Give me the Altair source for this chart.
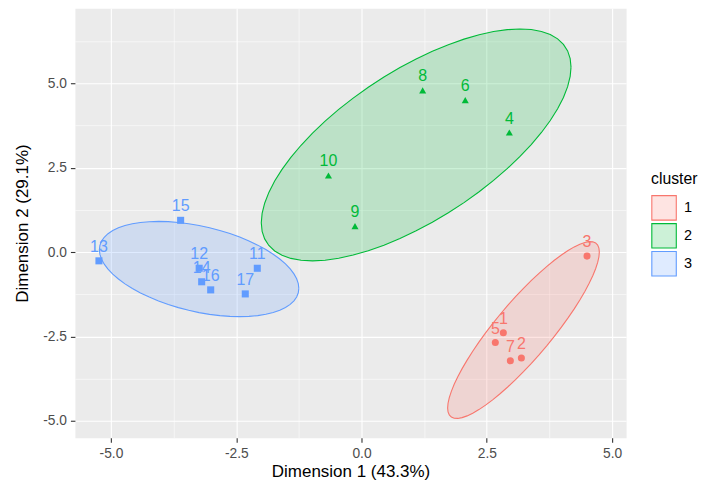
import numpy as np
import pandas as pd
import altair as alt

# ---- data ----
point_labels = ["1", "2", "3", "4", "5", "6", "7", "8", "9", "10",
                "11", "12", "13", "14", "15", "16", "17"]
cluster = ["1", "1", "1", "2", "1", "2", "1", "2", "2", "2",
           "3", "3", "3", "3", "3", "3", "3"]
dim1 = [2.83, 3.19, 4.50, 2.95, 2.67, 2.07, 2.97, 1.22, -0.13, -0.66,
        -2.08, -3.24, -5.24, -3.19, -3.61, -3.01, -2.32]
dim2 = [-2.39, -3.14, -0.12, 3.54, -2.68, 4.50, -3.22, 4.79, 0.77, 2.27,
        -0.48, -0.48, -0.26, -0.88, 0.94, -1.12, -1.24]

cluster_levels = ["1", "2", "3"]
cluster_colors = ["#F8766D", "#00BA38", "#619CFF"]
cluster_fills = ["rgba(248,118,109,0.2)", "rgba(0,186,56,0.2)", "rgba(97,156,255,0.2)"]
cluster_shapes = ["circle", "triangle-up", "square"]

x_title = "Dimension 1 (43.3%)"
y_title = "Dimension 2 (29.1%)"
x_domain = [-5.72, 5.28]
y_domain = [-5.5, 7.22]
x_grid = [-5, -3.75, -2.5, -1.25, 0, 1.25, 2.5, 3.75, 5]
y_grid = [-5, -3.75, -2.5, -1.25, 0, 1.25, 2.5, 3.75, 5, 6.25]
ellipse_level = 0.765

pts = pd.DataFrame({"label": point_labels, "cluster": cluster,
                    "x": dim1, "y": dim2})
pts["col"] = pts.cluster.map(dict(zip(cluster_levels, cluster_colors)))
pts["shp"] = pts.cluster.map(dict(zip(cluster_levels, cluster_shapes)))


# normal-theory ellipse around each cluster (like stat_ellipse type="norm")
def ellipse(xs, ys, level, segments=61):
    p = np.column_stack([xs, ys])
    n = len(p)
    center = p.mean(axis=0)
    cov = np.cov(p.T)
    chol = np.linalg.cholesky(cov).T
    d = n - 1
    fq = (d / 2.0) * ((1 - level) ** (-2.0 / d) - 1)
    radius = np.sqrt(2 * fq)
    t = np.linspace(0, 2 * np.pi, segments)
    circle = np.column_stack([np.cos(t), np.sin(t)])
    return center + radius * circle @ chol


rows = []
for c in cluster_levels:
    sub = pts[pts.cluster == c]
    e = ellipse(sub.x.values, sub.y.values, ellipse_level)
    for i, (ex, ey) in enumerate(e):
        rows.append({"cluster": c, "x": ex, "y": ey, "i": i})
ell_df = pd.DataFrame(rows)

FONT = "Liberation Sans"
major = "abs(datum.value / 2.5 - round(datum.value / 2.5)) < 0.001"

xscale = alt.Scale(domain=x_domain, nice=False, zero=False)
yscale = alt.Scale(domain=y_domain, nice=False, zero=False)


def axis(values, title, pad):
    return alt.Axis(
        values=values, title=title,
        labelExpr="(" + major + ") ? replace(format(datum.value, '.1f'), '\u2212', '-') : ''",
        grid=True, gridColor="white",
        gridWidth={"condition": {"test": "!(" + major + ")", "value": 0.55}, "value": 1.1},
        tickOpacity={"condition": {"test": "!(" + major + ")", "value": 0}, "value": 1},
        tickColor="#333333", tickSize=4.5, tickWidth=1.1,
        domain=False, labelColor="#4D4D4D", labelFontSize=13.8, labelFont=FONT,
        labelPadding=4, titleFont=FONT, titleFontSize=17, titleFontWeight="normal",
        titleColor="black", titlePadding=pad, labelFlush=False, labelOverlap=False,
    )


box_legend = alt.Legend(title="cluster", orient="none", legendX=577, legendY=164,
                        symbolType="square", symbolSize=600, symbolStrokeWidth=1.1,
                        rowPadding=-2, titleFont=FONT, titleFontSize=15.8,
                        titleFontWeight="normal", titleColor="black", titlePadding=7,
                        labelFont=FONT, labelFontSize=14.5, labelColor="black",
                        labelOffset=7)

ell = alt.Chart(ell_df).mark_line(strokeWidth=1.1).encode(
    x=alt.X("x:Q", scale=xscale, axis=axis(x_grid, x_title, 4)),
    y=alt.Y("y:Q", scale=yscale, axis=axis(y_grid, y_title, 11)),
    stroke=alt.Stroke("cluster:N", scale=alt.Scale(domain=cluster_levels, range=cluster_colors),
                      legend=box_legend),
    fill=alt.Fill("cluster:N", scale=alt.Scale(domain=cluster_levels, range=cluster_fills),
                  legend=box_legend),
    order="i:Q",
)

points = alt.Chart(pts).mark_point(filled=True, size=50, opacity=1).encode(
    x="x:Q", y="y:Q",
    color=alt.Color("col:N", scale=None),
    shape=alt.Shape("shp:N", scale=None),
)

text = alt.Chart(pts).mark_text(dy=-14, fontSize=16, font=FONT).encode(
    x="x:Q", y="y:Q", text="label:N",
    color=alt.Color("col:N", scale=None),
)

chart = alt.layer(ell, points, text).properties(
    width=552, height=430,
    padding={"left": 67, "top": 0, "right": 73, "bottom": 42},
    autosize=alt.AutoSizeParams(type="none"),
).configure_view(fill="#EBEBEB", stroke="transparent")

chart.save("out.html", embed_options={"renderer": "svg", "actions": False})
